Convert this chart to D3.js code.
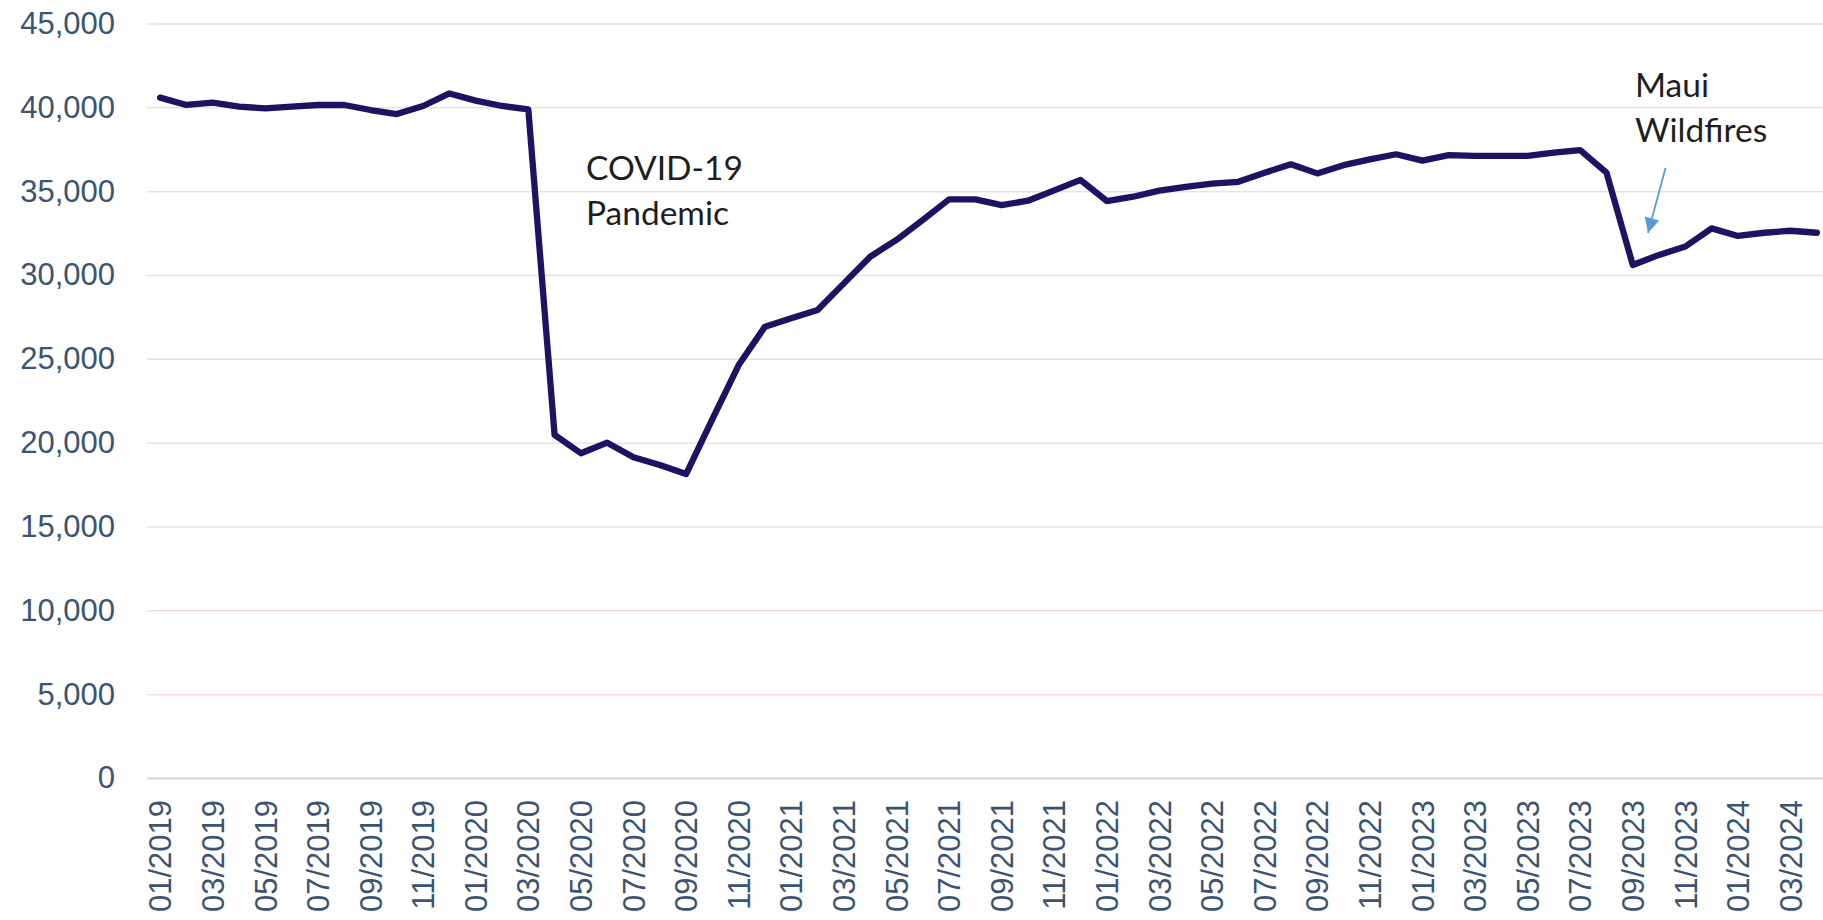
<!DOCTYPE html>
<html>
<head>
<meta charset="utf-8">
<script src="https://cdn.jsdelivr.net/npm/d3@7"></script>
<style>
  body { margin: 0; background: #fff; }
</style>
</head>
<body>
<div id="chart"></div>
<script>
var months = ["01/2019", "02/2019", "03/2019", "04/2019", "05/2019", "06/2019", "07/2019", "08/2019",
    "09/2019", "10/2019", "11/2019", "12/2019", "01/2020", "02/2020", "03/2020", "04/2020",
    "05/2020", "06/2020", "07/2020", "08/2020", "09/2020", "10/2020", "11/2020", "12/2020",
    "01/2021", "02/2021", "03/2021", "04/2021", "05/2021", "06/2021", "07/2021", "08/2021",
    "09/2021", "10/2021", "11/2021", "12/2021", "01/2022", "02/2022", "03/2022", "04/2022",
    "05/2022", "06/2022", "07/2022", "08/2022", "09/2022", "10/2022", "11/2022", "12/2022",
    "01/2023", "02/2023", "03/2023", "04/2023", "05/2023", "06/2023", "07/2023", "08/2023",
    "09/2023", "10/2023", "11/2023", "12/2023", "01/2024", "02/2024", "03/2024", "04/2024"];

var visitors = [40580, 40140, 40280, 40040, 39940, 40040, 40140, 40140,
    39840, 39600, 40080, 40830, 40400, 40080, 39880, 20460,
    19370, 20000, 19130, 18670, 18130, 21400, 24630, 26920,
    27420, 27910, 29500, 31090, 32090, 33280, 34510, 34510,
    34170, 34430, 35050, 35670, 34410, 34670, 35030, 35250,
    35450, 35560, 36100, 36600, 36060, 36550, 36900, 37200,
    36820, 37150, 37100, 37100, 37100, 37300, 37450, 36100,
    30600, 31200, 31700, 32780, 32330, 32520, 32640, 32520];

var yTicks = [0, 5000, 10000, 15000, 20000, 25000, 30000, 35000, 40000, 45000];

var notes = [
    {lines: ["COVID-19", "Pandemic"], x: 586, y: 180},
    {lines: ["Maui", "Wildfires"], x: 1635, y: 97}
];

var width = 1823, height = 920;
var plotLeft = 147, plotRight = 1830, plotTop = 23.5, plotBottom = 778;

var svg = d3.select("#chart")
    .append("svg")
    .attr("width", width)
    .attr("height", height);

var xAxis = d3.scaleBand()
    .domain(months)
    .range([plotLeft, plotRight]);

var yAxis = d3.scaleLinear()
    .domain([0, 45000])
    .range([plotBottom, plotTop]);

// grid lines + y labels
var yG = svg.append("g")
    .attr("transform", "translate(" + plotLeft + ",0)")
    .call(d3.axisLeft(yAxis)
        .tickValues(yTicks)
        .tickFormat(d3.format(","))
        .tickSize(-(width - plotLeft))
        .tickPadding(32));
yG.select(".domain").remove();
yG.selectAll(".tick line")
    .attr("stroke", function (d) { return d === 0 ? "#d6d6d6" : "#f3dede"; })
    .attr("stroke-width", function (d) { return d === 0 ? 2 : 1.5; });
yG.selectAll(".tick text")
    .attr("font-family", "'Liberation Sans', Arial, sans-serif")
    .attr("font-size", "31")
    .attr("fill", "#3a5472");

// x labels, every other month
var xG = svg.append("g")
    .attr("transform", "translate(0," + plotBottom + ")")
    .call(d3.axisBottom(xAxis)
        .tickValues(months.filter(function (d, i) { return i % 2 === 0; }))
        .tickSize(0));
xG.select(".domain").remove();
xG.selectAll(".tick text")
    .attr("transform", "rotate(-90)")
    .attr("x", -22)
    .attr("y", 0)
    .attr("dy", "0.36em")
    .style("text-anchor", "end")
    .attr("font-family", "'Liberation Sans', Arial, sans-serif")
    .attr("font-size", "31")
    .attr("fill", "#3a5472");

var line = d3.line()
    .x(function (d, i) { return xAxis(months[i]) + xAxis.bandwidth() / 2; })
    .y(function (d) { return yAxis(d); });

svg.append("path")
    .datum(visitors)
    .attr("d", line)
    .attr("fill", "none")
    .attr("stroke", "#1c1462")
    .attr("stroke-width", 6.3)
    .attr("stroke-linejoin", "round")
    .attr("stroke-linecap", "round");

// annotations
notes.forEach(function (n) {
    var t = svg.append("text")
        .attr("x", n.x)
        .attr("y", n.y)
        .attr("font-family", "Lato, 'Open Sans', sans-serif")
        .attr("font-size", "33.5")
        .attr("fill", "#1e1e1e");
    n.lines.forEach(function (l, i) {
        t.append("tspan")
            .attr("x", n.x)
            .attr("dy", i === 0 ? 0 : 45)
            .text(l);
    });
});

svg.append("defs").append("marker")
    .attr("id", "arrowHead")
    .attr("markerUnits", "userSpaceOnUse")
    .attr("viewBox", "0 0 10 10")
    .attr("refX", 10)
    .attr("refY", 5)
    .attr("markerWidth", 18)
    .attr("markerHeight", 15)
    .attr("orient", "auto")
    .append("path")
    .attr("d", "M0,0 L10,5 L0,10 Z")
    .attr("fill", "#5b9bd5");

svg.append("line")
    .attr("x1", 1665.5)
    .attr("y1", 168)
    .attr("x2", 1648)
    .attr("y2", 233)
    .attr("stroke", "#5b9bd5")
    .attr("stroke-width", 1.8)
    .attr("marker-end", "url(#arrowHead)");
</script>
</body>
</html>
